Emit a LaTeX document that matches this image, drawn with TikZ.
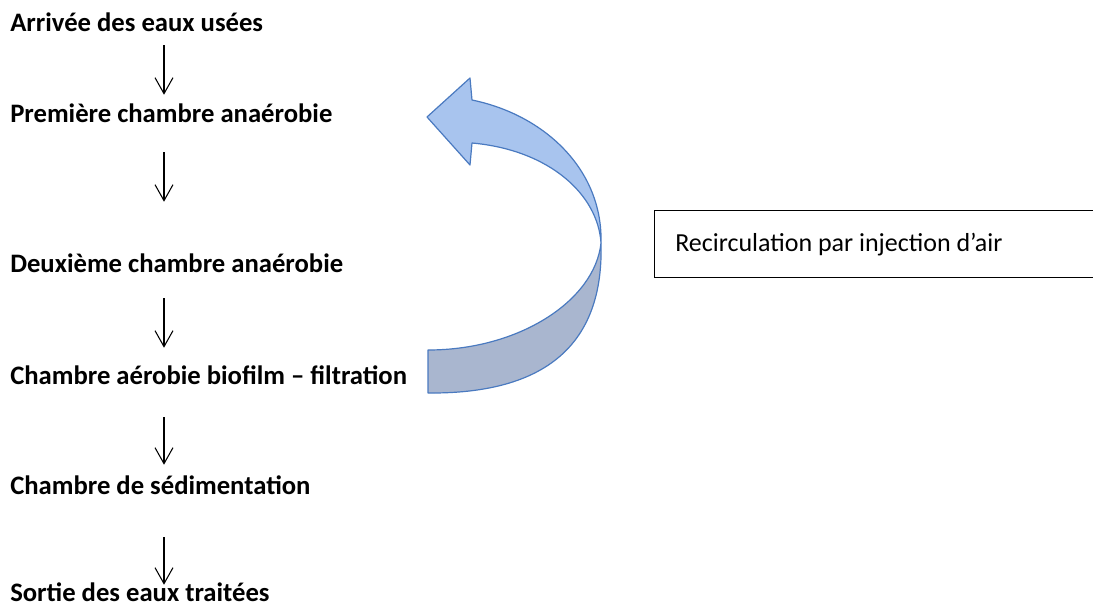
\documentclass[tikz,border=0pt]{standalone}
\usepackage{fontspec}
\setmainfont{Carlito}
\usetikzlibrary{arrows.meta}
\definecolor{bleuclair}{HTML}{A8C4EE}
\definecolor{bleugris}{HTML}{A9B6CF}
\definecolor{bleubord}{HTML}{4A7AC0}
\tikzset{
  etape/.style={anchor=base west,inner sep=0pt,text height=9.75pt,text depth=0pt,font=\fontsize{20}{24}\selectfont\bfseries},
  fleche/.style={line width=0.8pt,-{Straight Barb[length=12pt,width=13.5pt,line width=0.8pt]}},
  ruban/.style={draw=bleubord,line width=0.9pt,line join=round}
}
\begin{document}
\begin{tikzpicture}[x=0.75pt,y=-0.75pt]
\useasboundingbox (0,0) rectangle (1093,607);
\clip (0,0) rectangle (1093,607);
\coordinate (col) at (164,0);
% etapes du traitement
\node[etape] (arrivee) at (10,31) {Arrivée des eaux usées};
\node[etape] (premiere) at (10,122) {Première chambre anaérobie};
\node[etape] (deuxieme) at (10,272) {Deuxième chambre anaérobie};
\node[etape] (aerobie) at (10,384) {Chambre aérobie biofilm – filtration};
\node[etape] (sedim) at (10,494) {Chambre de sédimentation};
\node[etape] (sortie) at (10,601) {Sortie des eaux traitées};
\draw[fleche,shorten <=10.5pt,shorten >=10.5pt] (arrivee.south -| col)--(premiere.north -| col);
\draw[fleche,shorten <=22.5pt,shorten >=42.75pt] (premiere.south -| col)--(deuxieme.north -| col);
\draw[fleche,shorten <=19.5pt,shorten >=17.25pt] (deuxieme.south -| col)--(aerobie.north -| col);
\draw[fleche,shorten <=24.75pt,shorten >=12pt] (aerobie.south -| col)--(sedim.north -| col);
\draw[fleche,shorten <=32.25pt,shorten >=2.25pt] (sedim.south -| col)--(sortie.north -| col);
% fleche courbe de recirculation
\coordinate (croix) at (601,243);
\fill[bleuclair,ruban] (427,117)--(470,78)--(472,100)
  .. controls (545,115) and (603,170) .. (croix)
  .. controls (598,195) and (550,150) .. (472,143)--(470,165)--cycle;
\fill[bleugris,ruban] (croix)
  .. controls (604,345) and (545,394) .. (428,393)--(428,350)
  .. controls (520,350) and (595,300) .. (croix);
% cadre
\node[draw,line width=0.9pt,anchor=north west,minimum width=500pt,minimum height=50.25pt,inner sep=0pt] (cadre) at (654,210) {};
\node[anchor=base west,inner sep=0pt,font=\fontsize{19.5}{23}\selectfont] (recirc) at (675,251) {Recirculation par injection d’air};
\end{tikzpicture}
\end{document}
